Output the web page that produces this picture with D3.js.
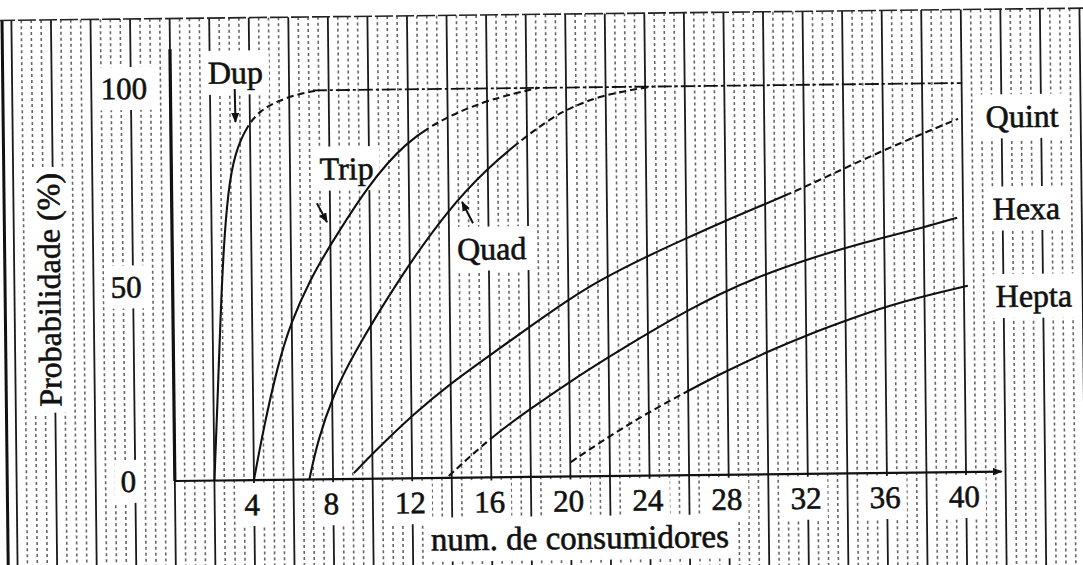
<!DOCTYPE html>
<html lang="pt">
<head>
<meta charset="UTF-8">
<title>Probabilidade x num. de consumidores</title>
<style>
  body { margin: 0; background: #fff; }
  text { font-family: "Liberation Serif", "DejaVu Serif", serif; fill: #111; stroke: #111; stroke-width: 0.6px; }
</style>
</head>
<body>
<div id="chart"></div>
<script src="https://d3js.org/d3.v7.min.js"></script>
<script>
// values: [num. de consumidores, probabilidade %]
var xTicks = [4, 8, 12, 16, 20, 24, 28, 32, 36, 40];
var yTicks = [0, 50, 100];
var dup   = [[2,0],[2.2,20],[2.4,42],[2.6,60],[2.85,74],[3.2,84],[3.9,91.5],[4.55,95],[5.4,97.4],[6.6,99.3],[7.5,100]];
var trip  = [[4,0],[4.5,13],[5.27,29.5],[5.96,40.5],[7,51.8],[7.87,59.2],[9.93,75.5],[11.87,86.5],[13.8,92.5],[15.84,96.6],[17.36,98.6],[18.6,100]];
var quad  = [[6.8,0],[7.25,10.1],[8.09,22],[8.97,31],[11.39,51],[13.96,69],[16,79.6],[17.84,87.2],[19.37,92.6],[20.23,94.8],[21.75,97.8],[23.63,99.5],[24.4,100]];
var quint = [[9.05,1.5],[10.08,6.8],[12.12,16.6],[14,24.3],[16.05,31.6],[18.08,38.8],[20,45.4],[21.45,50],[24.04,56.5],[25.87,60.6],[27.75,64.8],[29.78,69],[31.3,72.2],[32.3,74.4],[35.9,82.8],[39.8,90.8]];
var hexa  = [[13.85,0.5],[16,10.3],[18.04,17.6],[19.97,24.2],[22,30.6],[24.05,36.8],[26.08,42.5],[27.7,46.6],[29.4,50.4],[31.9,54.8],[33.95,57.9],[36,60.6],[38,63],[39.7,65.4]];
var hepta = [[20.03,3.7],[22.07,10.5],[24,16.3],[26.04,21.8],[27.66,26],[30.06,31.6],[32.1,35.8],[34.3,39.8],[36.2,43],[38.2,45.6],[40.2,47.9]];
var names = ["Dup", "Trip", "Quad", "Quint", "Hexa", "Hepta"];
var curves = [dup, trip, quad, quint, hexa, hepta];

// parts of each curve that are dashed on the scan (x range)
var dashed = { Dup: [3.9, 8], Trip: [13, 19], Quad: [17.5, 25], Quint: [31.2, 41], Hexa: [13.8, 16], Hepta: [19.9, 26] };
// series labels and pointer arrows, in data units
var labelPos = { Dup: [1.9, 102], Trip: [7.5, 77], Quad: [14.4, 56], Quint: [41.2, 88.5], Hexa: [41.5, 64.8], Hepta: [41.6, 42.3] };
var pointers = [[3.25, 100.6, 3.27, 92.1], [7.34, 71, 7.84, 66.1], [15.22, 65.4, 14.68, 70.9]];

var W = 1083, H = 565;
var svg = d3.select("#chart").append("svg").attr("width", W).attr("height", H);
svg.append("rect").attr("width", W).attr("height", H).attr("fill", "#fff");

svg.append("defs").append("marker")
    .attr("id", "head").attr("markerUnits", "userSpaceOnUse")
    .attr("markerWidth", 10).attr("markerHeight", 8)
    .attr("refX", 9).attr("refY", 4).attr("orient", "auto")
    .append("path").attr("d", "M0,0 L10,4 L0,8 z").attr("fill", "#111");

// the scan is slightly tilted
var g = svg.append("g").attr("transform", "rotate(-0.65,570,280)");

var x = d3.scaleLinear().domain([0, 40]).range([172.6, 963.8]);
var y = d3.scaleLinear().domain([0, 100]).range([476.5, 87.5]);

var topY = 14, bottomY = 600;

// graph paper
var fine = d3.range(-8, 47, 0.5).filter(function (v) { return v % 2 !== 0; });
g.append("g").selectAll("line").data(fine).join("line")
    .attr("x1", d => x(d)).attr("x2", d => x(d))
    .attr("y1", topY).attr("y2", bottomY)
    .attr("stroke", "#666").attr("stroke-width", 1.6)
    .attr("stroke-dasharray", "3,3");
g.append("g").selectAll("line").data(d3.range(-8, 48, 2)).join("line")
    .attr("x1", d => x(d)).attr("x2", d => x(d))
    .attr("y1", topY).attr("y2", bottomY)
    .attr("stroke", "#1a1a1a").attr("stroke-width", 1.8);
g.append("line").attr("x1", 5).attr("x2", 5).attr("y1", topY).attr("y2", bottomY)
    .attr("stroke", "#111").attr("stroke-width", 3);
g.append("line").attr("x1", 0).attr("x2", W + 20).attr("y1", topY).attr("y2", topY)
    .attr("stroke", "#222").attr("stroke-width", 1.6).attr("stroke-dasharray", "18,3");

// labels with white paper behind them
var labels = g.append("g");
function label(txt, tx, ty, size, anchor, rot) {
    var lg = labels.append("g").attr("transform", "translate(" + tx + "," + ty + ")" + (rot ? " rotate(" + rot + ")" : ""));
    var t = lg.append("text").attr("font-size", size).attr("text-anchor", anchor || "start").text(txt);
    var b = t.node().getBBox();
    lg.insert("rect", "text").attr("x", b.x - 6).attr("y", b.y - 4)
        .attr("width", b.width + 12).attr("height", b.height + 8).attr("fill", "#fff");
    return t;
}

xTicks.forEach(function (v) { label(v, x(v) - 2, y(0) + 35, 31, "middle"); });
yTicks.forEach(function (v) { label(v, 126, y(v) + 10.5 - (v === 100 ? 4 : 0), 31, "middle"); });
label("num. de consumidores", 577, 549, 33, "middle");
label("Probabilidade (%)", 60, 284, 32, "middle", -90);
names.forEach(function (n) { label(n, x(labelPos[n][0]), y(labelPos[n][1]), 32, "start"); });

// axes
g.append("line").attr("x1", x(0)).attr("x2", x(0)).attr("y1", y(0)).attr("y2", y(111))
    .attr("stroke", "#111").attr("stroke-width", 3.2);
g.append("line").attr("x1", x(0)).attr("x2", x(41.8)).attr("y1", y(0)).attr("y2", y(0))
    .attr("stroke", "#111").attr("stroke-width", 2.2).attr("marker-end", "url(#head)");
// 100 % limit
g.append("line").attr("x1", x(7.2)).attr("x2", x(40)).attr("y1", y(100)).attr("y2", y(100))
    .attr("stroke", "#111").attr("stroke-width", 1.8).attr("stroke-dasharray", "14,3,3,3");

// curves: solid part and dashed part via clip paths
var line = d3.line().x(d => x(d[0])).y(d => y(d[1])).curve(d3.curveBasis);
var defs = svg.select("defs");
names.forEach(function (n, i) {
    var span = dashed[n];
    var cIn = defs.append("clipPath").attr("id", "in" + i);
    cIn.append("rect").attr("x", x(span[0])).attr("width", x(span[1]) - x(span[0])).attr("y", 0).attr("height", H);
    var cOut = defs.append("clipPath").attr("id", "out" + i);
    cOut.append("rect").attr("x", -50).attr("width", x(span[0]) + 50).attr("y", 0).attr("height", H);
    cOut.append("rect").attr("x", x(span[1])).attr("width", W).attr("y", 0).attr("height", H);

    g.append("path").datum(curves[i]).attr("d", line)
        .attr("fill", "none").attr("stroke", "#111").attr("stroke-width", 2.1)
        .attr("clip-path", "url(#out" + i + ")");
    g.append("path").datum(curves[i]).attr("d", line)
        .attr("fill", "none").attr("stroke", "#111").attr("stroke-width", 2.1)
        .attr("stroke-dasharray", "7,4")
        .attr("clip-path", "url(#in" + i + ")");
});

// pointer arrows
g.append("g").selectAll("line").data(pointers).join("line")
    .attr("x1", d => x(d[0])).attr("y1", d => y(d[1]))
    .attr("x2", d => x(d[2])).attr("y2", d => y(d[3]))
    .attr("stroke", "#111").attr("stroke-width", 2).attr("marker-end", "url(#head)");
</script>
</body>
</html>
